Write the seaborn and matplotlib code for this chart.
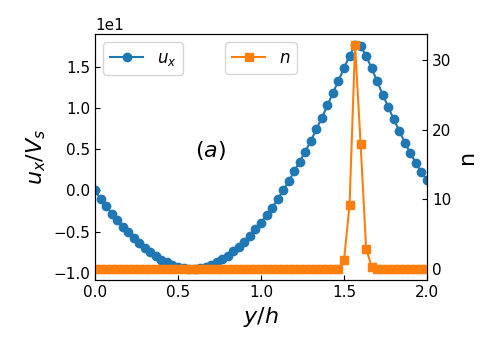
import numpy as np
import matplotlib
matplotlib.use("Agg")
import matplotlib.pyplot as plt
from matplotlib.ticker import MultipleLocator
import seaborn as sns

# position across the channel, uniform grid of 61 samples
y_h = np.linspace(0.0, 2.0, 61)

# streamwise velocity u_x / V_s
u_x = [0.0, -1.0, -1.9, -2.8, -3.6, -4.4, -5.1, -5.8, -6.4, -7.0,
       -7.5, -8.0, -8.4, -8.7, -9.0, -9.25, -9.4, -9.5, -9.5, -9.4,
       -9.25, -9.0, -8.7, -8.3, -7.9, -7.4, -6.8, -6.2, -5.5, -4.7,
       -3.9, -3.0, -2.1, -1.1, 0.0, 1.1, 2.3, 3.5, 4.7, 6.0,
       7.4, 8.8, 10.3, 11.8, 13.3, 14.8, 16.3, 17.6, 17.5, 16.3,
       14.8, 13.2, 11.6, 10.1, 8.6, 7.2, 5.8, 4.5, 3.3, 2.2, 1.2]

# density n
n = [0.0] * 45 + [1.2, 9.2, 32.2, 18.0, 2.9, 0.3] + [0.0] * 10

fig, ax = plt.subplots(figsize=(5, 3.5), dpi=100)
fig.subplots_adjust(left=0.19, right=0.854, bottom=0.2, top=0.903)
ax2 = ax.twinx()

sns.lineplot(x=y_h, y=u_x, marker='o', color='C0', markeredgecolor='C0',
             markeredgewidth=1, markersize=6, linewidth=1.5,
             label='$u_x$', ax=ax, legend=False)
sns.lineplot(x=y_h, y=n, marker='s', color='C1', markeredgecolor='C1',
             markeredgewidth=1, markersize=6, linewidth=1.5,
             label='$n$', ax=ax2, legend=False)

ax.set_xlim(0, 2)
ax.ticklabel_format(axis='y', style='sci', scilimits=(0, 0))
ax2.yaxis.set_major_locator(MultipleLocator(10))
ax.set_xlabel('$y/h$', fontsize=16)
ax.set_ylabel('$u_x/V_s$', fontsize=16)
ax2.set_ylabel('n', fontsize=16)

ax.tick_params(direction='in', labelsize=11)
ax2.tick_params(direction='in', labelsize=11)
ax.yaxis.get_offset_text().set_fontsize(11)

ax.legend(loc='upper left', fontsize=12)
ax2.legend(loc='upper center', fontsize=12)

ax.text(0.3, 0.5, '$(a)$', transform=ax.transAxes, fontsize=16)

plt.savefig('out.png', dpi=100)
plt.close()
